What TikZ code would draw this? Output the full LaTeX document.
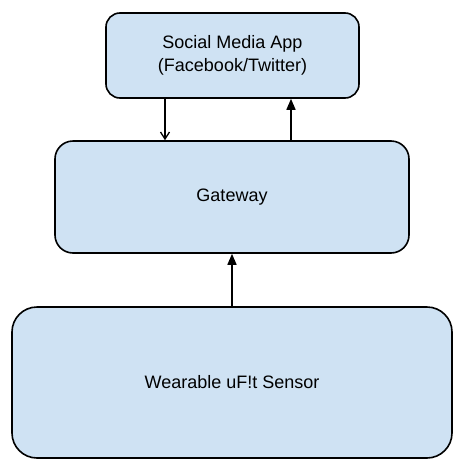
\documentclass[tikz,border=0pt]{standalone}
\usepackage{fontspec}
\setmainfont{Liberation Sans}
\usetikzlibrary{arrows.meta}
\definecolor{boxblue}{HTML}{CFE2F3}
\tikzset{
	block/.style={draw=black, line width=1.6pt, fill=boxblue, align=center, inner sep=0pt,
		font=\fontsize{18}{23}\selectfont},
	link/.style={line width=1.6pt}
}
\begin{document}
\begin{tikzpicture}[x=1pt, y=-1pt]
			\useasboundingbox (0,0) rectangle (464,472);
			\node (app) [block, rounded corners=14pt, minimum width=253pt, minimum height=85pt] at (232.5,55.5) {Social Media App\\(Facebook/Twitter)};
			\node (gateway) [block, rounded corners=18pt, minimum width=354pt, minimum height=112pt] at (232,197) {Gateway};
			\node (sensor) [block, rounded corners=25pt, minimum width=440pt, minimum height=151pt] at (232,382.5) {Wearable uF!t Sensor};
			% links between the blocks
			\draw [link, -{Straight Barb[length=7pt, width=9pt, line width=1.3pt]}] ([xshift=-67.5pt]app.south) -- ([xshift=-67.5pt]app.south |- gateway.north);
			\draw [link, -{Triangle[length=11pt, width=9pt]}] ([xshift=58.5pt]app.south |- gateway.north) -- ([xshift=58.5pt]app.south);
			\draw [link, -{Triangle[length=11pt, width=9pt]}] (sensor.north) -- (gateway.south);
		\end{tikzpicture}
\end{document}
